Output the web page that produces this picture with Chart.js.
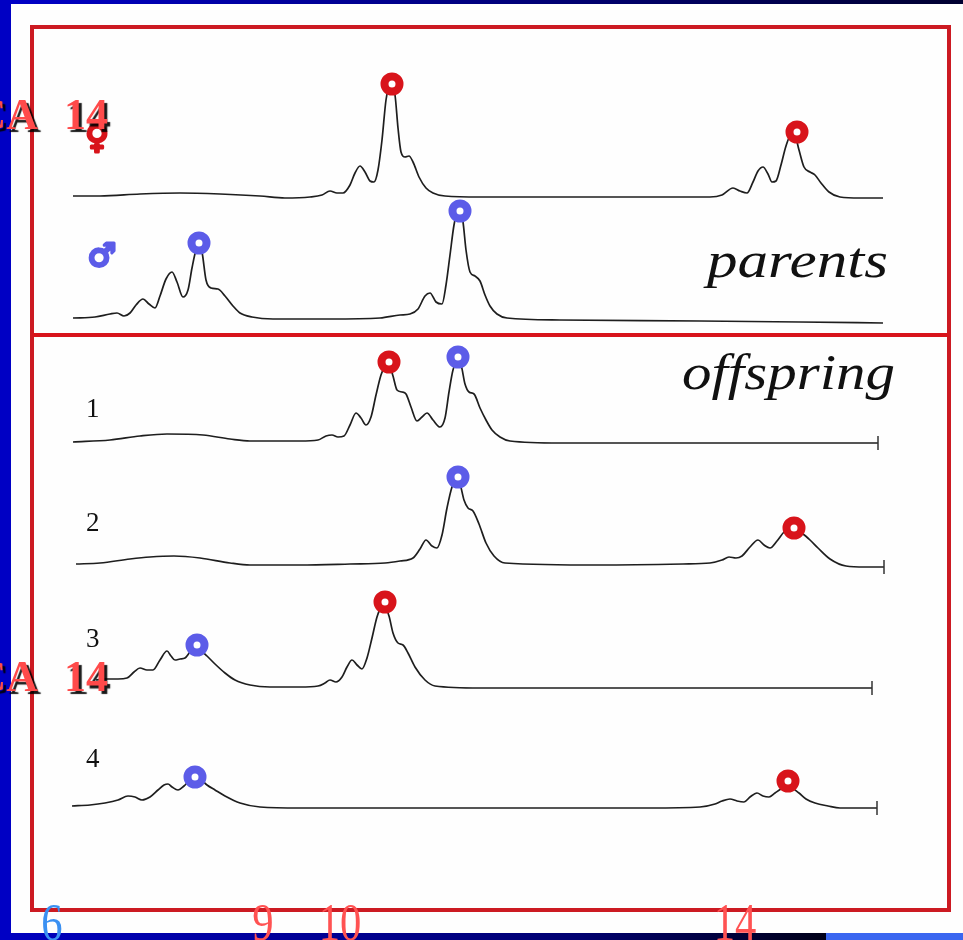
<!DOCTYPE html>
<html>
<head>
<meta charset="utf-8">
<title>CA 14 traces</title>
<script src="https://cdn.jsdelivr.net/npm/chart.js@4.4.1/dist/chart.umd.min.js"></script>
<style>
  html, body { margin: 0; padding: 0; background: #0000c4; overflow: hidden; }
  canvas { display: block; }
</style>
</head>
<body>
<canvas id="traceChart" width="963" height="940"></canvas>
<script>
// each point: [scan position, signal height above the trace baseline]
const femaleTrace = [[41,1],[68,1],[108,3],[148,4],[188,3],[228,1],[253,-1],[278,0],[290,2],[298,6],[305,4],[311,4],[318,12],[323,24],[328,31],[333,25],[338,16],[342,15],[346,27],[350,57],[354,97],[357,109],[360,110],[363,102],[366,69],[369,45],[373,40],[377,41],[381,35],[387,20],[394,9],[401,4],[413,1],[448,0],[528,0],[618,0],[678,0],[690,2],[701,9],[708,6],[715,4],[721,15],[726,26],[731,30],[736,23],[740,15],[744,16],[749,32],[754,51],[759,62],[763,61],[767,47],[772,30],[778,25],[783,22],[789,14],[797,5],[808,0],[828,-1],[851,-1]];
const maleTrace = [[41,2],[63,3],[78,6],[85,7],[92,4],[98,7],[104,15],[111,21],[117,16],[123,12],[128,24],[134,41],[140,48],[145,38],[151,23],[156,30],[160,52],[164,70],[167,74],[170,68],[174,40],[179,32],[186,31],[193,24],[201,14],[208,7],[220,3],[241,1],[298,1],[348,2],[368,5],[378,6],[386,11],[393,24],[398,27],[404,18],[410,16],[414,35],[418,65],[422,95],[425,107],[428,108],[431,98],[434,70],[438,48],[443,44],[448,39],[453,25],[458,14],[465,6],[475,2],[528,0],[668,-1],[768,-2],[851,-3]];
const child1Trace = [[41,0],[78,2],[108,6],[135,8],[171,7],[198,3],[218,1],[268,1],[286,2],[294,6],[300,7],[306,5],[312,6],[318,17],[324,29],[329,24],[334,17],[339,25],[344,47],[349,67],[353,76],[357,78],[361,66],[365,52],[370,50],[374,48],[379,35],[385,21],[390,25],[395,29],[401,22],[408,15],[413,24],[417,50],[421,72],[425,80],[429,77],[433,58],[437,50],[442,48],[448,34],[454,22],[460,12],[468,5],[478,1],[528,-1],[668,-1],[768,-1],[846,-1]];
const child2Trace = [[44,0],[68,1],[98,5],[118,7],[142,8],[168,6],[198,1],[218,-1],[268,-1],[318,0],[353,1],[368,3],[381,6],[388,15],[394,24],[400,18],[405,16],[410,29],[415,56],[420,77],[424,84],[428,80],[432,64],[436,56],[441,53],[447,40],[454,21],[462,8],[473,1],[568,-1],[651,0],[678,1],[690,4],[697,7],[704,6],[710,8],[718,17],[726,24],[732,19],[738,16],[745,23],[752,32],[758,36],[764,34],[771,30],[778,24],[786,16],[798,5],[814,-2],[833,-3],[852,-3]];
const child3Trace = [[64,6],[73,7],[86,7],[95,8],[102,14],[108,18],[115,16],[121,16],[128,26],[135,35],[139,30],[143,26],[148,27],[153,28],[158,34],[163,38],[168,36],[175,30],[183,22],[193,13],[203,6],[218,1],[238,-1],[268,-1],[286,0],[293,3],[298,6],[304,4],[310,9],[315,19],[320,26],[325,21],[330,17],[335,28],[340,48],[345,69],[349,78],[353,79],[357,70],[361,53],[366,43],[371,41],[376,33],[383,19],[393,6],[403,0],[448,-2],[568,-2],[718,-2],[840,-2]];
const child4Trace = [[40,1],[58,2],[73,4],[86,7],[96,11],[103,10],[110,7],[118,10],[126,17],[132,22],[136,23],[140,20],[146,17],[152,21],[158,27],[163,29],[168,28],[175,22],[183,17],[193,11],[208,4],[228,0],[268,-1],[468,-1],[618,-1],[668,0],[683,3],[690,6],[698,8],[705,6],[712,5],[718,10],[725,14],[731,11],[737,10],[743,14],[749,18],[754,20],[760,19],[767,14],[774,8],[783,4],[796,1],[808,-1],[845,-1]];

// called peaks: [trace index, scan position, height]
const redPeaks = [[0,360,113],[0,765,65],[2,357,80],[3,762,36],[4,353,84],[5,756,26]];
const bluePeaks = [[1,167,77],[1,428,109],[2,426,85],[3,426,87],[4,165,41],[5,163,30]];

// allele sizes under the scan axis
const alleleTicks = [20, 231, 308, 703];
const alleleLabels = ['6', '9', '10', '14'];
const alleleColors = ['#3a90f2', '#ff5252', '#ff5252', '#ff5252'];

const traces = [femaleTrace, maleTrace, child1Trace, child2Trace, child3Trace, child4Trace];
const traceNames = ['\u2640', '\u2642', '1', '2', '3', '4'];

// layout: baseline level of each trace, and the parents / offspring split
const traceOffsets = [713, 590, 468, 346, 224, 103];
const dividerLevel = 575;

const RED = '#d8141b';
const BLUE = '#5c5ce8';

function fitText(ctx, text, x, y, width) {
    const w = ctx.measureText(text).width;
    ctx.save();
    ctx.translate(x, y);
    ctx.scale(width / w, 1);
    ctx.fillText(text, 0, 0);
    ctx.restore();
}

const slidePlugin = {
    id: 'slide',
    beforeDraw(chart) {
        const ctx = chart.ctx;
        const W = chart.width, H = chart.height;
        ctx.save();
        ctx.fillStyle = '#0000c4';
        ctx.fillRect(0, 0, W, H);
        let g = ctx.createLinearGradient(0, 0, W, 0);
        g.addColorStop(0, '#0000c8');
        g.addColorStop(0.6, '#000070');
        g.addColorStop(1, '#000030');
        ctx.fillStyle = g;
        ctx.fillRect(11, 0, W - 11, 4);
        g = ctx.createLinearGradient(0, 0, 826, 0);
        g.addColorStop(0, '#0000c0');
        g.addColorStop(0.7, '#000070');
        g.addColorStop(1, '#000018');
        ctx.fillStyle = g;
        ctx.fillRect(11, 933, 815, H - 933);
        ctx.fillStyle = '#3a66f0';
        ctx.fillRect(826, 933, W - 826, H - 933);
        ctx.fillStyle = '#fefefe';
        ctx.fillRect(11, 4, W - 11, 929);
        ctx.restore();
    },
    beforeDatasetsDraw(chart) {
        const ctx = chart.ctx;
        const a = chart.chartArea;
        const yDiv = chart.scales.y.getPixelForValue(dividerLevel);
        ctx.save();
        ctx.strokeStyle = '#cc1a22';
        ctx.lineWidth = 4;
        ctx.strokeRect(a.left, a.top, a.right - a.left, a.bottom - a.top);
        ctx.strokeStyle = RED;
        ctx.beginPath();
        ctx.moveTo(a.left, yDiv);
        ctx.lineTo(a.right, yDiv);
        ctx.stroke();
        ctx.restore();
    },
    afterDraw(chart) {
        const ctx = chart.ctx;
        const x = chart.scales.x;
        ctx.save();

        // sex symbols for the parents, drawn heavy
        ctx.textAlign = 'center';
        ctx.textBaseline = 'middle';
        ctx.font = 'bold 32px "DejaVu Sans"';
        ctx.lineWidth = 3;
        ctx.lineJoin = 'round';
        ctx.fillStyle = ctx.strokeStyle = RED;
        ctx.strokeText(traceNames[0], 97, 140);
        ctx.fillText(traceNames[0], 97, 140);
        ctx.fillStyle = ctx.strokeStyle = BLUE;
        ctx.strokeText(traceNames[1], 102, 258);
        ctx.fillText(traceNames[1], 102, 258);

        // offspring numbers
        ctx.textAlign = 'left';
        ctx.textBaseline = 'alphabetic';
        ctx.font = '27px "Liberation Serif"';
        ctx.fillStyle = '#111';
        [417, 531, 647, 767].forEach((b, k) => ctx.fillText(traceNames[k + 2], 86, b));

        // section titles
        ctx.font = 'italic 50px "Liberation Serif"';
        ctx.fillStyle = '#111';
        fitText(ctx, 'parents', 707, 277, 181);
        fitText(ctx, 'offspring', 682, 389, 213);

        // locus labels
        ctx.font = 'bold 44px "Liberation Serif"';
        ctx.shadowColor = 'rgba(0,0,0,0.9)';
        ctx.shadowOffsetX = 3;
        ctx.shadowOffsetY = 3;
        ctx.shadowBlur = 1;
        ctx.fillStyle = '#ff4a4a';
        [129, 691].forEach(b => {
            ctx.textAlign = 'right';
            ctx.fillText('CA', 38, b);
            ctx.textAlign = 'left';
            ctx.fillText('14', 64, b);
        });
        ctx.shadowColor = 'transparent';

        // allele size labels, tall and narrow
        ctx.textAlign = 'center';
        ctx.font = '52px "Liberation Serif"';
        alleleTicks.forEach((v, k) => {
            ctx.fillStyle = alleleColors[k];
            ctx.save();
            ctx.translate(x.getPixelForValue(v), 940);
            ctx.scale(0.82, 1);
            ctx.fillText(alleleLabels[k], 0, 0);
            ctx.restore();
        });
        ctx.restore();
    }
};

const traceSets = traces.map((t, i) => ({
    data: t.map(([px, h]) => ({ x: px, y: traceOffsets[i] + h })),
    showLine: true,
    borderColor: '#1e1e1e',
    borderWidth: 1.7,
    cubicInterpolationMode: 'monotone',
    pointStyle: 'line',
    rotation: 90,
    pointRadius: ctx => (i >= 2 && ctx.dataIndex === t.length - 1) ? 7 : 0,
    pointBorderColor: '#333',
    pointBorderWidth: 1.5,
    fill: false
}));

const peakSet = (peaks, color) => ({
    data: peaks.map(([i, px, h]) => ({ x: px, y: traceOffsets[i] + h })),
    showLine: false,
    pointStyle: 'circle',
    pointRadius: 7.5,
    pointBorderWidth: 8,
    pointBorderColor: color,
    pointBackgroundColor: '#ffffff'
});

new Chart(document.getElementById('traceChart'), {
    type: 'scatter',
    data: {
        datasets: [peakSet(redPeaks, RED), peakSet(bluePeaks, BLUE), ...traceSets]
    },
    options: {
        responsive: false,
        animation: false,
        layout: { autoPadding: false, padding: { left: 32, right: 14, top: 27, bottom: 30 } },
        plugins: { legend: { display: false }, tooltip: { enabled: false } },
        scales: {
            x: { type: 'linear', min: 0, max: 917, display: false },
            y: { type: 'linear', min: 0, max: 883, display: false }
        }
    },
    plugins: [slidePlugin]
});
</script>
</body>
</html>
